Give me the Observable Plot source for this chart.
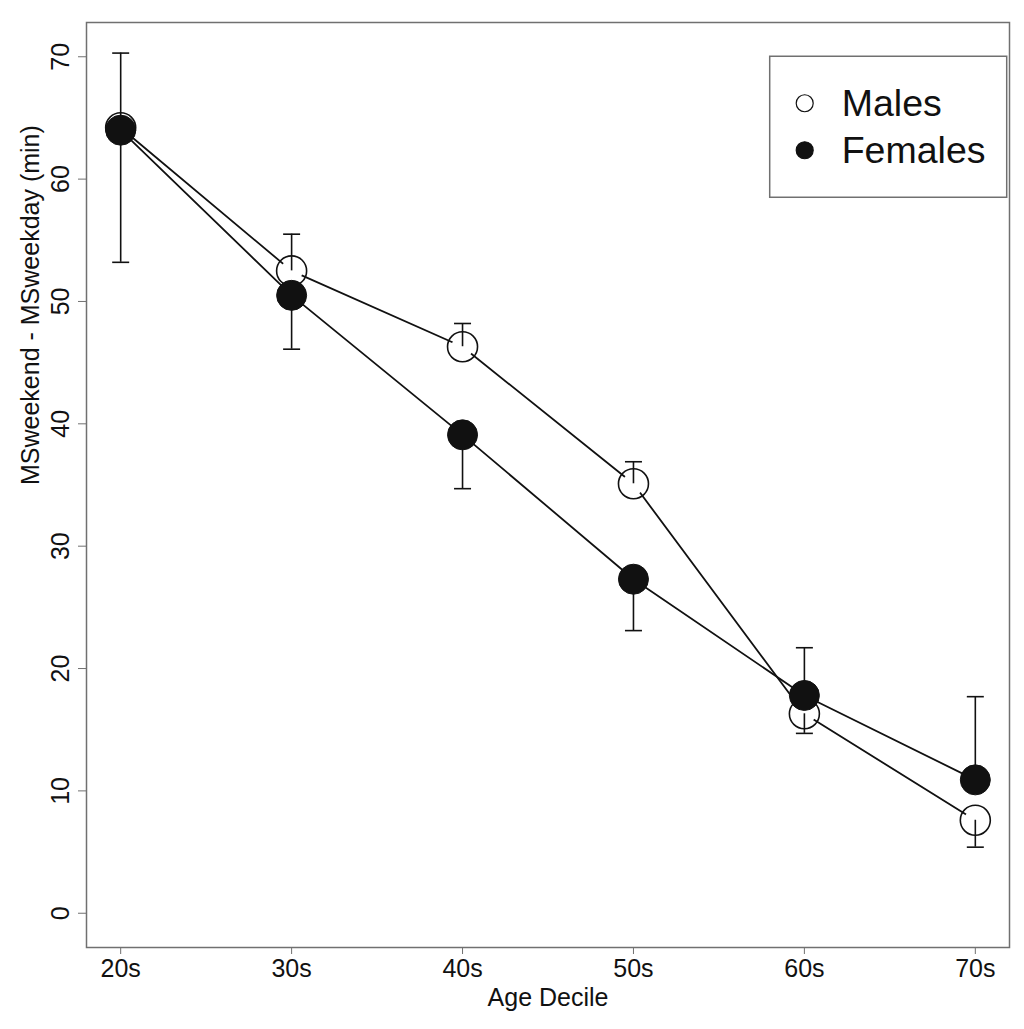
<!DOCTYPE html>
<html>
<head>
<meta charset="utf-8">
<script src="https://cdn.jsdelivr.net/npm/d3@7"></script>
<script src="https://cdn.jsdelivr.net/npm/@observablehq/plot@0.6"></script>
<style>
  body { margin: 0; background: #fff; }
  #chart { width: 1024px; height: 1029px; }
</style>
</head>
<body>
<div id="chart"></div>
<script>
// ---- data ----
const ages = ["20s", "30s", "40s", "50s", "60s", "70s"];
const males = [64.2, 52.5, 46.3, 35.1, 16.3, 7.6];
const females = [64.0, 50.5, 39.1, 27.3, 17.8, 10.9];
const malesErrEnd = [70.3, 55.5, 48.2, 36.9, 14.7, 5.4];
const femalesErrEnd = [53.2, 46.1, 34.7, 23.1, 21.7, 17.7];
const yTicks = [0, 10, 20, 30, 40, 50, 60, 70];
const seriesNames = ["Males", "Females"];
const legendAt = [4.8, 70]; // legend top-left in data units (as in R legend(x, y))

const maleRows = ages.map((a, i) => ({ xi: i + 1, value: males[i], err: malesErrEnd[i] }));
const femaleRows = ages.map((a, i) => ({ xi: i + 1, value: females[i], err: femalesErrEnd[i] }));
const allRows = maleRows.concat(femaleRows);

const ink = "#111";
const frameGray = "#707070";
const font = "'Liberation Sans', Arial, Helvetica, sans-serif";

const capSymbol = {
  draw(ctx, size) {
    const w = Math.sqrt(size / Math.PI);
    ctx.moveTo(-w, 0);
    ctx.lineTo(w, 0);
  }
};

function legendMark(index, scales) {
  const x0 = scales.x(legendAt[0]);
  const y0 = scales.y(legendAt[1]);
  const g = d3.create("svg:g").attr("font-family", font).attr("text-anchor", "start");
  g.append("rect")
    .attr("x", x0).attr("y", y0)
    .attr("width", 237).attr("height", 141)
    .attr("fill", "white").attr("stroke", frameGray).attr("stroke-width", 1.5);
  seriesNames.forEach((name, i) => {
    const cy = y0 + 47 + i * 47;
    g.append("circle")
      .attr("cx", x0 + 35).attr("cy", cy).attr("r", 8.5)
      .attr("fill", i === 0 ? "white" : ink)
      .attr("stroke", ink).attr("stroke-width", 1.2);
    g.append("text")
      .attr("x", x0 + 72).attr("y", cy + 13)
      .attr("text-anchor", "start")
      .attr("font-size", 37.5).attr("fill", ink)
      .text(name);
  });
  return g.node();
}

const chart = Plot.plot({
  width: 1024,
  height: 1029,
  marginLeft: 86,
  marginRight: 15,
  marginTop: 22,
  marginBottom: 82,
  style: { fontFamily: font, background: "white", color: ink },
  x: { type: "linear", domain: [0.8, 6.2] },
  y: { domain: [-2.8, 72.8] },
  marks: [
    Plot.frame({ stroke: frameGray, strokeWidth: 1.5 }),
    Plot.axisX({
      ticks: ages.map((_, i) => i + 1),
      tickFormat: (d) => ages[d - 1],
      tickSize: 7, tickPadding: 5, fontSize: 25,
      stroke: frameGray, fill: ink, label: null
    }),
    Plot.axisY({
      ticks: yTicks, tickSize: 8, tickPadding: 10, tickRotate: -90,
      fontSize: 25, stroke: frameGray, fill: ink, label: null
    }),
    Plot.text(["Age Decile"], {
      frameAnchor: "bottom", dy: 58, lineAnchor: "bottom",
      fontSize: 25, fill: ink
    }),
    Plot.text(["MSweekend - MSweekday (min)"], {
      frameAnchor: "left", dx: -48, rotate: -90, lineAnchor: "bottom",
      fontSize: 25, fill: ink
    }),
    // lines
    Plot.line(maleRows, { x: "xi", y: "value", stroke: ink, strokeWidth: 1.8 }),
    Plot.line(femaleRows, { x: "xi", y: "value", stroke: ink, strokeWidth: 1.8 }),
    // gap around male points (R type = "b")
    Plot.dot(maleRows, { x: "xi", y: "value", r: 11, fill: "white", stroke: "none" }),
    // error bars
    Plot.ruleX(allRows, { x: "xi", y1: "value", y2: "err", stroke: ink, strokeWidth: 1.6 }),
    Plot.dot(allRows, { x: "xi", y: "err", symbol: capSymbol, r: 8.5, fill: "none", stroke: ink, strokeWidth: 1.6 }),
    // points
    Plot.dot(maleRows, { x: "xi", y: "value", r: 15, fill: "none", stroke: ink, strokeWidth: 1.6 }),
    Plot.dot(femaleRows, { x: "xi", y: "value", r: 15, fill: ink, stroke: ink, strokeWidth: 1 }),
    legendMark
  ]
});

document.getElementById("chart").appendChild(chart);
</script>
</body>
</html>
